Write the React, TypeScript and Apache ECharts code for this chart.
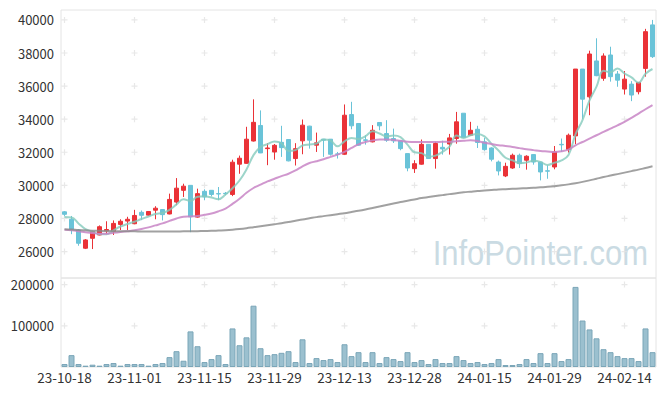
import React, { useEffect, useRef } from "react";
import * as echarts from "echarts";

const dates = [
  "23-10-18","23-10-19","23-10-20","23-10-23","23-10-24","23-10-25","23-10-26","23-10-27","23-10-30","23-10-31",
  "23-11-01","23-11-02","23-11-03","23-11-06","23-11-07","23-11-08","23-11-09","23-11-10","23-11-13","23-11-14",
  "23-11-15","23-11-16","23-11-17","23-11-20","23-11-21","23-11-22","23-11-23","23-11-24","23-11-27","23-11-28",
  "23-11-29","23-11-30","23-12-01","23-12-04","23-12-05","23-12-06","23-12-07","23-12-08","23-12-11","23-12-12",
  "23-12-13","23-12-14","23-12-15","23-12-18","23-12-19","23-12-20","23-12-21","23-12-22","23-12-26","23-12-27",
  "23-12-28","24-01-02","24-01-03","24-01-04","24-01-05","24-01-08","24-01-09","24-01-10","24-01-11","24-01-12",
  "24-01-15","24-01-16","24-01-17","24-01-18","24-01-19","24-01-22","24-01-23","24-01-24","24-01-25","24-01-26",
  "24-01-29","24-01-30","24-01-31","24-02-01","24-02-02","24-02-05","24-02-06","24-02-07","24-02-08","24-02-13",
  "24-02-14","24-02-15","24-02-16","24-02-19","24-02-20",
];

const opens = [
  28400,27950,27300,26200,26800,27000,27250,27220,27640,27840,
  27680,28370,28200,28500,28540,28270,28990,29700,30000,28080,
  29640,29700,29500,29520,29450,31280,31330,32680,33620,32220,
  32020,32600,32770,31620,32690,33580,32430,32790,32790,31900,
  31880,34280,33740,32750,32630,33800,33130,32830,32690,31920,
  31010,31280,32480,31620,32300,32500,32830,34360,33030,33390,
  32630,32260,31410,30570,31050,31820,31520,31860,31410,30880,
  31110,32480,32160,32990,37030,35350,37520,36470,37880,36730,
  35820,36120,35660,37070,39700,
];
const closes = [
  28250,27350,26500,26700,27200,27500,27330,27700,27830,27950,
  28180,28190,28420,28620,28230,29150,29830,29950,28100,29500,
  29300,29450,29480,29500,31400,31640,32790,33810,31960,32260,
  32420,32280,31480,32220,33640,32730,32570,32730,31880,31880,
  34240,33600,32430,32720,33330,33600,32730,32690,32220,31050,
  31310,32480,31620,32530,32200,32870,33840,32890,33330,32590,
  32160,31580,30870,31150,31820,31310,31760,31410,30810,30860,
  32020,32450,33030,37030,35210,37940,36630,37820,36570,36360,
  36420,35460,36220,39290,37780,
];
const lows = [
  28150,27050,26350,26150,26150,26980,27050,27000,27300,27300,
  27650,27900,28150,27950,27880,28250,28800,29300,27170,28050,
  29100,29330,29100,29400,29350,30700,31300,32650,31950,31220,
  31550,31720,31450,31200,31880,32220,32020,31720,31800,31620,
  31850,33390,32400,32460,32600,33330,32630,32560,32120,30850,
  30750,31250,31600,31010,31860,31860,32520,32880,33000,32260,
  32100,31450,30600,30500,31000,31050,30950,31250,30300,30400,
  30970,32020,31980,32490,34000,34240,36600,36320,36270,35960,
  35490,35090,35500,36570,37700,
];
const highs = [
  28450,28150,27350,26750,27250,27580,27830,27880,27950,28100,
  28520,28480,28430,28740,28560,29500,30440,30100,30000,29800,
  29760,29720,29900,29600,31550,31800,33540,35200,34530,32550,
  32500,33600,32800,32550,33980,33600,33190,32800,32800,32020,
  34890,35050,33740,33030,33640,33800,33940,33430,32700,31920,
  31520,32770,32500,32630,32700,33110,34440,34360,33840,33600,
  32870,32300,31500,31370,31920,31920,31820,31880,31420,31210,
  32380,32830,33130,37030,37030,38140,38890,37980,38380,36910,
  36910,36300,36250,39460,40000,
];

const volumes = [
  7200,28800,7200,3200,5600,3200,7200,9600,3200,7200,
  7200,7200,3200,7200,9600,24000,38400,15200,86400,50400,
  12000,19200,28800,7200,93600,52800,72000,148800,45600,28800,
  31200,34400,38400,12000,67200,9600,21600,16800,19200,12000,
  55200,26400,36000,12000,36000,9600,24000,19200,14400,36000,
  12000,16800,7200,19200,9600,9600,26400,16800,9600,12000,
  7200,9600,19200,4800,4800,7200,19200,9600,33600,9600,
  33600,14400,19200,194400,112800,91200,69600,43200,36000,26400,
  21600,21600,14400,93600,36000,
];

const ma5 = [
  28080,28060,27700,27350,27200,27050,27046,27286,27512,27662,
  27798,27970,28114,28272,28328,28522,28850,29156,29052,29306,
  29336,29260,29166,29446,29826,30294,30962,31828,32320,32492,
  32648,32546,32080,32132,32408,32470,32528,32778,32710,32358,
  32660,32866,32806,32974,33264,33136,32962,33014,32914,32458,
  32000,31950,31736,31798,32028,32340,33012,32866,33026,33104,
  32962,32510,32106,31670,31516,31346,31382,31490,31422,31230,
  31372,31510,31834,33078,33948,35132,35968,36926,36834,37064,
  36760,36526,36206,36750,37034,
];
const ma20 = [
  27310,27280,27230,27170,27120,27070,27080,27130,27180,27230,
  27280,27360,27460,27580,27700,27850,28000,28100,28120,28150,
  28220,28300,28430,28590,28880,29190,29550,29840,30040,30240,
  30400,30560,30700,30900,31150,31350,31460,31580,31720,31860,
  32020,32260,32480,32620,32720,32770,32770,32740,32690,32640,
  32620,32620,32620,32620,32630,32630,32660,32690,32720,32680,
  32570,32500,32430,32380,32320,32250,32180,32130,32080,32050,
  32020,32060,32160,32420,32620,32820,33030,33230,33430,33630,
  33840,34080,34340,34600,34850,
];
const ma60 = [
  27350,27330,27300,27280,27260,27250,27240,27230,27220,27220,
  27220,27210,27210,27210,27210,27210,27210,27220,27220,27230,
  27240,27250,27270,27290,27320,27360,27410,27470,27530,27590,
  27650,27710,27780,27860,27940,28010,28080,28140,28200,28260,
  28320,28390,28460,28540,28630,28720,28810,28900,28990,29070,
  29150,29230,29290,29350,29410,29470,29520,29580,29620,29660,
  29690,29720,29750,29770,29790,29810,29830,29850,29880,29910,
  29950,30000,30060,30130,30210,30300,30400,30500,30590,30680,
  30770,30860,30950,31050,31150,
];

const markIndexes = [0, 10, 20, 30, 40, 50, 60, 70, 80];
const priceTicks = [26000, 28000, 30000, 32000, 34000, 36000, 38000, 40000];
const volumeTicks = [100000, 200000];

const FONT = '"Noto Sans CJK KR", "Noto Sans", sans-serif';
const PLUS = "path://M2,0H3V2H5V3H3V5H2V3H0V2H2Z";

export default function App() {
  const ref = useRef<HTMLDivElement>(null);
  useEffect(() => {
    if (!ref.current) return;
    const chart = echarts.init(ref.current, null, { renderer: "svg" });
    const candles = dates.map((_, i) => [opens[i], closes[i], lows[i], highs[i]]);
    const marksUpper: number[][] = [];
    markIndexes.forEach((x) => priceTicks.forEach((y) => marksUpper.push([x, y])));
    const marksLower: number[][] = [];
    markIndexes.forEach((x) => volumeTicks.forEach((y) => marksLower.push([x, y])));

    const labelStyle = { color: "#333", fontSize: 13, fontFamily: FONT };

    chart.setOption({
      animation: false,
      backgroundColor: "#fff",
      grid: [
        { left: 61, right: 9, top: 10, height: 268, show: true, borderColor: "#e4e4e4", borderWidth: 1 },
        { left: 61, right: 9, top: 278, height: 89, show: true, borderColor: "#e4e4e4", borderWidth: 1 },
      ],
      graphic: [
        {
          type: "text",
          x: 648,
          y: 270,
          scaleY: 1.12,
          z: 0,
          style: {
            text: "InfoPointer.com",
            font: '31px "Liberation Sans", Arial, sans-serif',
            fill: "#cadbe3",
            textAlign: "right",
            textVerticalAlign: "bottom",
          },
        },
      ],
      xAxis: [
        {
          type: "category",
          gridIndex: 0,
          data: dates,
          boundaryGap: true,
          axisLine: { show: false },
          axisTick: { show: false },
          axisLabel: { show: false },
          splitLine: { show: false },
        },
        {
          type: "category",
          gridIndex: 1,
          data: dates,
          boundaryGap: true,
          axisLine: { show: false },
          axisTick: { show: false },
          axisLabel: { ...labelStyle, fontSize: 13.5, interval: 9, margin: 3 },
          splitLine: { show: false },
        },
      ],
      yAxis: [
        {
          type: "value",
          gridIndex: 0,
          min: 24400,
          max: 40600,
          splitNumber: 8,
          minInterval: 2000,
          maxInterval: 2000,
          axisLine: { show: false },
          axisTick: { show: false },
          splitLine: { show: false },
          axisLabel: { ...labelStyle, margin: 7, showMinLabel: false, showMaxLabel: false, formatter: (v: number) => String(v) },
        },
        {
          type: "value",
          gridIndex: 1,
          min: 0,
          max: 216000,
          minInterval: 100000,
          maxInterval: 100000,
          axisLine: { show: false },
          axisTick: { show: false },
          splitLine: { show: false },
          axisLabel: { ...labelStyle, margin: 7, showMinLabel: false, showMaxLabel: false, formatter: (v: number) => String(v) },
        },
      ],
      series: [
        {
          type: "scatter",
          xAxisIndex: 0,
          yAxisIndex: 0,
          data: marksUpper,
          symbol: PLUS,
          symbolSize: 6,
          itemStyle: { color: "#e2e2e2" },
          silent: true,
          z: 1,
        },
        {
          type: "scatter",
          xAxisIndex: 1,
          yAxisIndex: 1,
          data: marksLower,
          symbol: PLUS,
          symbolSize: 6,
          itemStyle: { color: "#e2e2e2" },
          silent: true,
          z: 1,
        },
        {
          type: "candlestick",
          xAxisIndex: 0,
          yAxisIndex: 0,
          data: candles,
          barWidth: 5,
          itemStyle: {
            color: "#ea3237",
            color0: "#6ac3d8",
            borderColor: "#ea3237",
            borderColor0: "#6ac3d8",
            borderWidth: 1,
          },
          z: 2,
        },
        {
          type: "line",
          xAxisIndex: 0,
          yAxisIndex: 0,
          data: ma5,
          symbol: "none",
          smooth: 0.4,
          lineStyle: { color: "#84cbbd", width: 2, opacity: 0.8 },
          z: 3,
        },
        {
          type: "line",
          xAxisIndex: 0,
          yAxisIndex: 0,
          data: ma20,
          symbol: "none",
          smooth: 0.4,
          lineStyle: { color: "#c885c6", width: 2, opacity: 0.85 },
          z: 3,
        },
        {
          type: "line",
          xAxisIndex: 0,
          yAxisIndex: 0,
          data: ma60,
          symbol: "none",
          smooth: 0.4,
          lineStyle: { color: "#8a8a8a", width: 2, opacity: 0.8 },
          z: 3,
        },
        {
          type: "bar",
          xAxisIndex: 1,
          yAxisIndex: 1,
          data: volumes,
          barWidth: 6,
          itemStyle: { color: "#9bc0cf", borderColor: "#7ba6b8", borderWidth: 1 },
          z: 2,
        },
      ],
    });
    return () => chart.dispose();
  }, []);
  return <div ref={ref} style={{ position: "fixed", left: 0, top: 0, width: 665, height: 396 }} />;
}
